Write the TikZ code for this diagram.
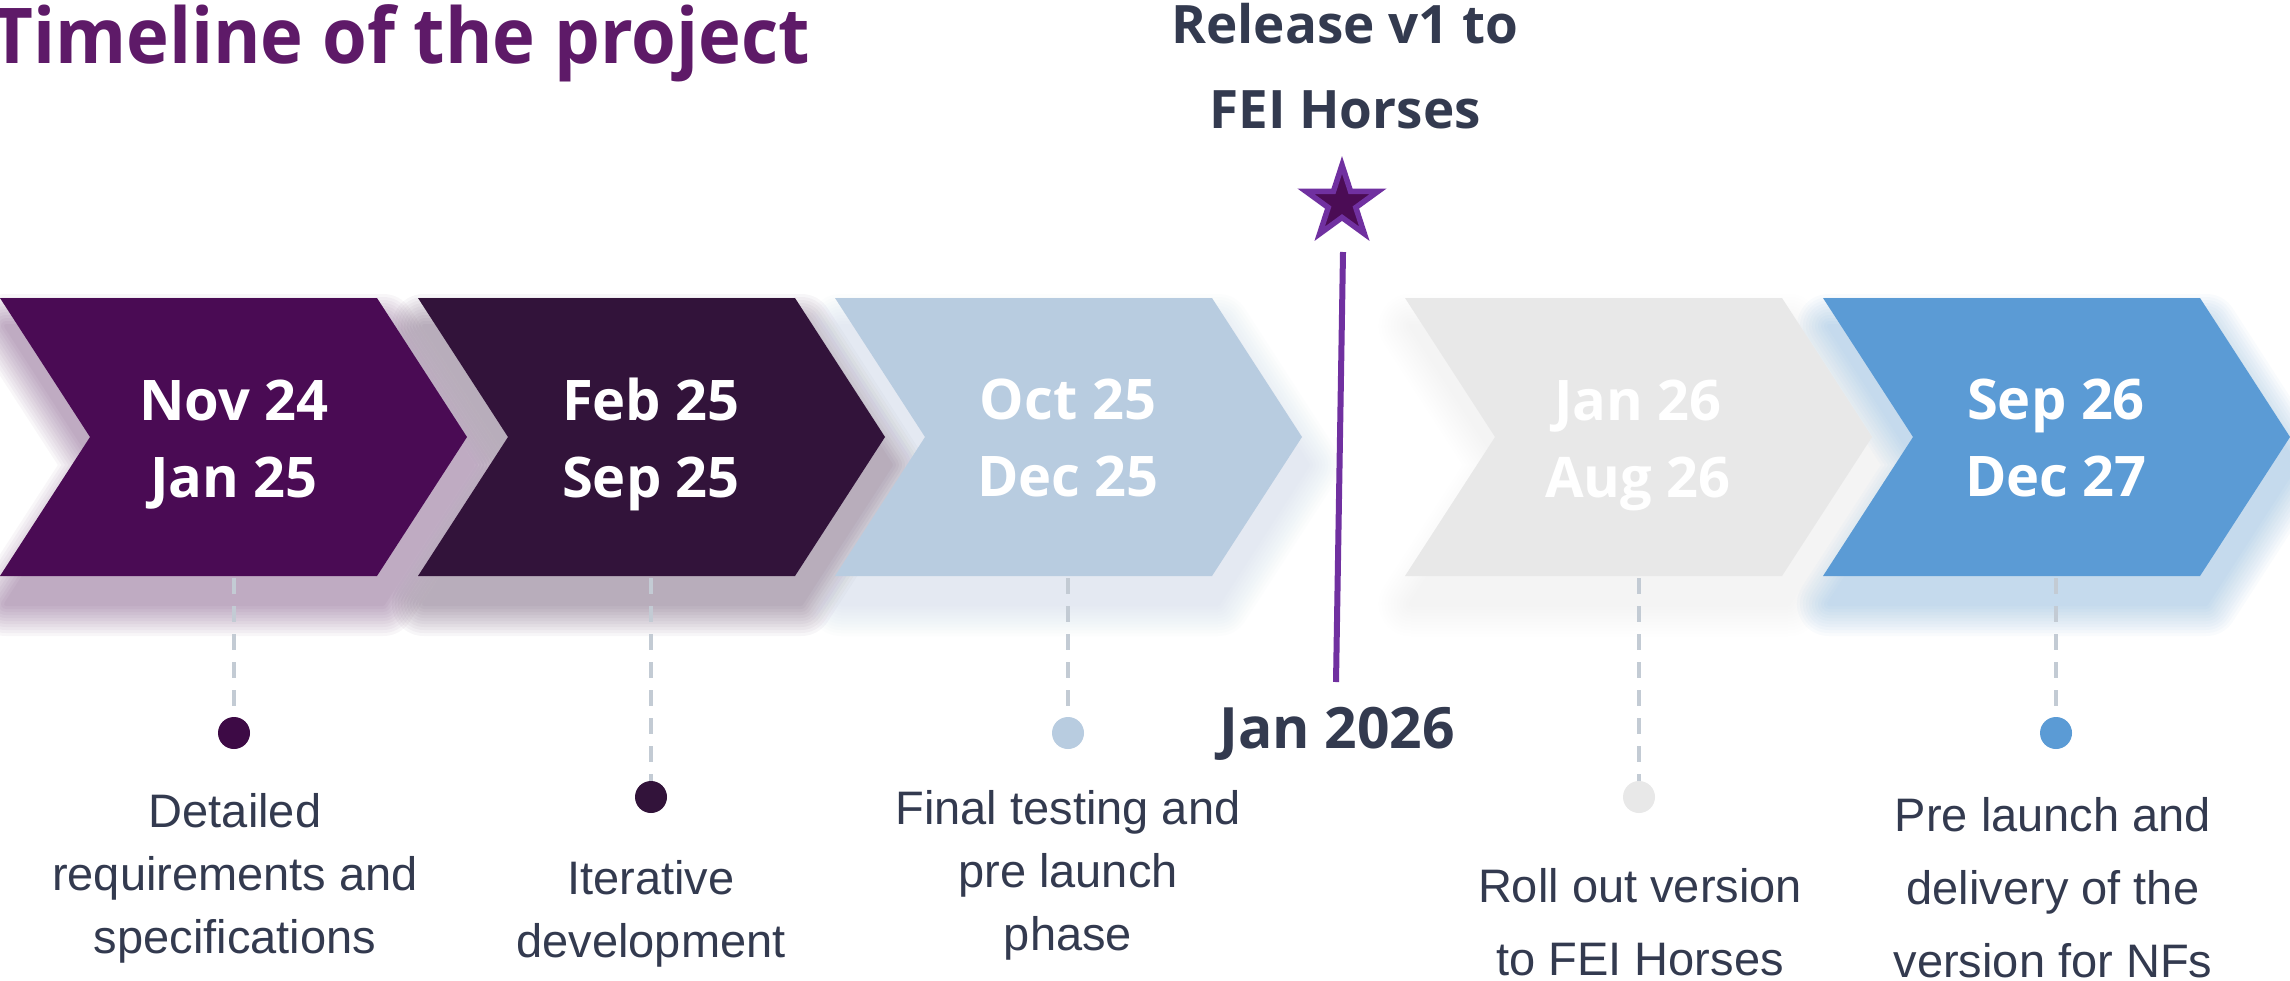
\documentclass[tikz,border=0pt]{standalone}
\usepackage{fontspec}
\usepackage{graphicx}
\setmainfont{Liberation Sans}
\newfontfamily\osans{Open Sans}
\usetikzlibrary{shapes.geometric}
\definecolor{cA}{HTML}{4A0B54}
\definecolor{cB}{HTML}{32133A}
\definecolor{cC}{HTML}{B8CCE0}
\definecolor{cD}{HTML}{E8E8E8}
\definecolor{cE}{HTML}{5B9BD5}
\definecolor{titlec}{HTML}{5E1A68}
\definecolor{darktxt}{HTML}{333A4F}
\definecolor{dashc}{HTML}{C3CBD4}
\definecolor{starfill}{HTML}{4B0C55}
\definecolor{starline}{HTML}{7030A0}
\definecolor{dotA}{HTML}{3D0A45}
\tikzset{
  datetext/.style={text=white, font=\osans\bfseries\fontsize{56}{77}\selectfont, align=center, inner sep=0pt, anchor=north},
  desc/.style={text=darktxt, font=\fontsize{47}{63}\selectfont, align=center, inner sep=0pt, anchor=north},
  desctall/.style={desc, font=\fontsize{47}{73}\selectfont},
  dashline/.style={draw=dashc, line width=4pt, dash pattern=on 16pt off 12pt},
  dotnode/.style={circle, minimum size=32pt, inner sep=0pt},
}
\begin{document}
\begin{tikzpicture}[x=1pt, y=-1pt]
\useasboundingbox (0,0) rectangle (2290,980);
\fill[white] (0,0) rectangle (2290,980);
% soft shadows
\foreach \L/\col in {0/cA,418/cB,835/cC,1405/cD,1823/cE}{
  \foreach \w in {64,58,52,46,40,34,28,22,16,10,4}{
    \begin{scope}[transparency group, opacity=0.034]
      \filldraw[fill=\col, draw=\col, line width=\w pt, line join=round]
        (\L+6,326) -- ++(377,0) -- ++(90,139) -- ++(-90,139) -- ++(-377,0) -- ++(90,-139) -- cycle;
    \end{scope}
  }
}
% chevrons
\foreach \L/\col in {0/cA,418/cB,835/cC,1405/cD,1823/cE}{
  \fill[\col] (\L,298) -- ++(377,0) -- ++(90,139) -- ++(-90,139) -- ++(-377,0) -- ++(90,-139) -- cycle;
}
% date texts
\node[datetext] (c1) at (234,380) {Nov 24\\Jan 25};
\node[datetext] (c2) at (651,377.5) {Feb 25\\Sep 25};
\node[datetext] (c3) at (1068,379) {Oct 25\\Dec 25};
\node[datetext] (c4) at (1638,380) {Jan 26\\Aug 26};
\node[datetext] (c5) at (2056,379) {Sep 26\\Dec 27};
% connectors and dots
\coordinate (b1) at (234,578);
\coordinate (b2) at (651,578);
\coordinate (b3) at (1068,578);
\coordinate (b4) at (1639,578);
\coordinate (b5) at (2056,578);
\node[dotnode, fill=dotA] (d1) at (234,733) {};
\node[dotnode, fill=cB] (d2) at (651,797) {};
\node[dotnode, fill=cC] (d3) at (1068,733) {};
\node[dotnode, fill=cD] (d4) at (1639,797) {};
\node[dotnode, fill=cE] (d5) at (2056,733) {};
\foreach \i in {1,...,5}{ \draw[dashline] (b\i) -- (d\i); }
% descriptions
\node[desc] (t1) at (235,793.4) {Detailed\\requirements and\\specifications};
\node[desc] (t2) at (651,860.4) {Iterative\\development};
\node[desc] (t3) at (1068,790.4) {Final testing and\\pre launch\\phase};
\node[desctall] (t4) at (1640,868.4) {Roll out version\\to FEI Horses};
\node[desctall] (t5) at (2053,797.4) {Pre launch and\\delivery of the\\version for NFs};
% title
\node[anchor=base west, inner sep=0pt, text=titlec, font=\osans\bfseries\fontsize{77}{90}\selectfont] (title) at (-9,63) {\scalebox{0.94}[1]{Timeline of the project}};
% release marker
\node[anchor=north, inner sep=0pt, align=center, text=darktxt, font=\osans\bfseries\fontsize{53}{85}\selectfont] (rel) at (1345,3) {Release v1 to\\FEI Horses};
\node[star, star points=5, star point ratio=2.618, minimum size=76pt, inner sep=0pt, fill=starfill, draw=starline, line width=5.5pt] (star) at (1342,203) {};
\coordinate (lt) at (1343,252);
\coordinate (lb) at (1336,682);
\draw[starline, line width=6pt] (lt) -- (lb);
\node[anchor=base, inner sep=0pt, text=darktxt, font=\osans\bfseries\fontsize{57}{70}\selectfont] (jan) at (1337,748) {Jan 2026};
\end{tikzpicture}
\end{document}
